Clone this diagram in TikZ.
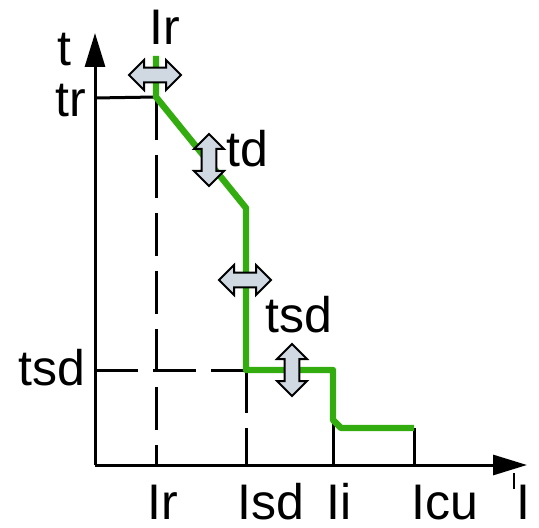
\documentclass[tikz,border=0pt]{standalone}
\usepackage{fontspec}
\setmainfont{Liberation Sans}
\usepackage{xcolor}
\usetikzlibrary{shapes.arrows, arrows.meta, positioning}
\definecolor{tripgreen}{RGB}{50,172,14}
\definecolor{adjgray}{RGB}{208,216,226}
\tikzstyle{axis} = [line width=1.5pt, -{Triangle[length=17pt, width=10pt]}]
\tikzstyle{guide} = [line width=1.5pt, dash pattern=on 21.5pt off 7.5pt]
\tikzstyle{plain} = [line width=1.5pt]
\tikzstyle{trip} = [line width=3.2pt, draw=tripgreen, line join=round]
\tikzstyle{adjust} = [double arrow, draw=black, fill=adjgray, line width=1pt, inner sep=3.2pt, minimum height=26pt, double arrow head extend=3.8pt]
\tikzstyle{lbl} = [anchor=base, inner sep=0pt, font=\fontsize{25}{30}\selectfont]

\begin{document}
\begin{tikzpicture}[x=0.5pt, y=-0.5pt]
\useasboundingbox (0,0) rectangle (539,528);
% axes
\coordinate (O) at (95,465);
\coordinate (ytip) at (95,33);
\coordinate (xtip) at (527,465);
\draw[axis] (O) -- (ytip);
\draw[axis] (O) -- (xtip);
% trip curve corners
\coordinate (c0) at (156,56);
\coordinate (c1) at (156,97);
\coordinate (c2) at (246,208);
\coordinate (c3) at (246,370);
\coordinate (c4) at (333,370);
\coordinate (c5) at (333,420);
\coordinate (c6) at (341,428);
\coordinate (c7) at (414,428);
% guides
\draw[plain] (95,98) -- (c1);
\draw[guide] (c1) -- (c1 |- O);
\draw[guide] (95,370) -- (c3);
\draw[guide] (c3) -- (c3 |- O);
\draw[plain] (c5) -- (c5 |- O);
\draw[plain] (c7) -- (c7 |- O);
\draw[line width=1pt] (514,473) -- (514,489);
% curve
\draw[trip] (c0) -- (c1) -- (c2) -- (c3) -- (c4) -- (c5) -- (c6) -- (c7);
% adjustments
\node[adjust] (adjIr) at (155,75) {};
\node[adjust, rotate=90] (adjTd) at (209,160) {};
\node[adjust] (adjIsd) at (245,280) {};
\node[adjust, rotate=90] (adjTsd) at (292,370) {};
% labels
\node[lbl] (lblT) at (64,66) {t};
\node[lbl] (lblTr) at (71,117) {tr};
\node[lbl] (lblTsdAx) at (52,385) {tsd};
\node[lbl] (lblIrTop) at (165,45) {Ir};
\node[lbl] (lblTd) at (247,167) {td};
\node[lbl] (lblTsd) at (299,333) {tsd};
\node[lbl] (lblIr) at (163,519) {Ir};
\node[lbl] (lblIsd) at (271,519) {Isd};
\node[lbl] (lblIi) at (339,519) {Ii};
\node[lbl] (lblIcu) at (445,519) {Icu};
\node[lbl] (lblI) at (523,519) {I};
\end{tikzpicture}
\end{document}
